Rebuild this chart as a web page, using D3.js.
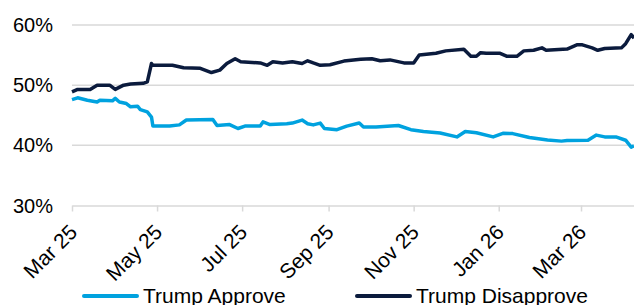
<!DOCTYPE html>
<html>
<head>
<meta charset="utf-8">
<script src="https://cdn.jsdelivr.net/npm/d3@7"></script>
<style>
  html, body { margin: 0; padding: 0; background: #fff; }
  svg { display: block; font-family: "Liberation Sans", Arial, sans-serif; }
</style>
</head>
<body>
<svg id="chart" width="634" height="305"></svg>
<script>
// ---- data ----
const approveDates = ["2025-03-01","2025-03-05","2025-03-12","2025-03-19","2025-03-21","2025-03-30","2025-04-01","2025-04-04","2025-04-09","2025-04-12","2025-04-17","2025-04-19","2025-04-24","2025-04-27","2025-04-28","2025-05-10","2025-05-17","2025-05-22","2025-06-10","2025-06-13","2025-06-22","2025-06-28","2025-07-03","2025-07-14","2025-07-16","2025-07-21","2025-08-02","2025-08-06","2025-08-13","2025-08-17","2025-08-21","2025-08-26","2025-08-29","2025-09-07","2025-09-14","2025-09-23","2025-09-26","2025-10-05","2025-10-21","2025-10-30","2025-11-08","2025-11-20","2025-12-02","2025-12-08","2025-12-16","2025-12-28","2026-01-04","2026-01-11","2026-01-23","2026-02-05","2026-02-15","2026-02-19","2026-03-06","2026-03-12","2026-03-18","2026-03-26","2026-04-02","2026-04-06","2026-04-08"];
const approveValues = [47.6,47.9,47.5,47.2,47.5,47.4,47.8,47.2,46.95,46.4,46.5,45.95,45.55,44.7,43.2,43.2,43.4,44.2,44.3,43.3,43.45,42.8,43.2,43.2,43.9,43.45,43.6,43.7,44.2,43.6,43.4,43.7,42.8,42.6,43.2,43.7,43.05,43.05,43.3,42.6,42.3,42.05,41.4,42.3,42.1,41.4,42.0,41.95,41.3,40.9,40.7,40.8,40.85,41.7,41.4,41.4,40.85,39.7,39.9];

const disapproveDates = ["2025-03-01","2025-03-05","2025-03-14","2025-03-19","2025-03-28","2025-04-01","2025-04-07","2025-04-12","2025-04-21","2025-04-24","2025-04-27","2025-04-28","2025-05-12","2025-05-20","2025-06-01","2025-06-09","2025-06-15","2025-06-20","2025-06-26","2025-06-30","2025-07-14","2025-07-19","2025-07-23","2025-07-30","2025-08-06","2025-08-13","2025-08-17","2025-08-21","2025-08-26","2025-09-02","2025-09-12","2025-09-24","2025-10-02","2025-10-08","2025-10-15","2025-10-25","2025-11-01","2025-11-05","2025-11-17","2025-11-24","2025-12-07","2025-12-12","2025-12-16","2025-12-19","2025-12-23","2026-01-02","2026-01-07","2026-01-14","2026-01-19","2026-01-26","2026-02-01","2026-02-04","2026-02-19","2026-02-26","2026-03-02","2026-03-09","2026-03-13","2026-03-18","2026-03-30","2026-04-02","2026-04-06","2026-04-08"];
const disapproveValues = [48.9,49.3,49.3,50.0,50.0,49.3,50.0,50.2,50.3,50.55,53.6,53.3,53.3,52.9,52.8,52.1,52.5,53.6,54.4,53.9,53.7,53.3,53.9,53.7,53.9,53.6,54.05,53.7,53.3,53.4,54.0,54.3,54.4,54.05,54.2,53.7,53.7,55.0,55.3,55.7,55.95,54.8,54.8,55.4,55.3,55.3,54.8,54.8,55.7,55.8,56.2,55.8,56.0,56.7,56.7,56.2,55.8,56.1,56.2,56.9,58.4,57.8];

const yTicks = [30, 40, 50, 60];
const xTickLabels = ["Mar 25","May 25","Jul 25","Sep 25","Nov 25","Jan 26","Mar 26"];
const xTickDates = ["2025-03-01","2025-05-01","2025-07-01","2025-09-01","2025-11-01","2026-01-01","2026-03-01"];
const seriesNames = ["Trump Approve","Trump Disapprove"];
const seriesColors = ["#00a2df","#0b1b3d"];

// ---- drawing ----
const parse = d3.utcParse("%Y-%m-%d");
const svg = d3.select("#chart");
const M = { left: 72, right: 634, top: 25, bottom: 205.5 };

const x = d3.scaleUtc()
  .domain([parse("2025-03-01"), parse("2026-04-08")])
  .range([M.left, M.right]);
const y = d3.scaleLinear().domain([30, 60]).range([M.bottom, M.top]);

// gridlines
svg.append("g").selectAll("line")
  .data(yTicks.filter(v => v !== 30))
  .join("line")
  .attr("x1", M.left).attr("x2", M.right)
  .attr("y1", d => y(d)).attr("y2", d => y(d))
  .attr("stroke", "#d9d9d9").attr("stroke-width", 1.5);

// y labels
svg.append("g").selectAll("text")
  .data(yTicks)
  .join("text")
  .attr("x", 53).attr("y", d => y(d))
  .attr("dy", "0.35em")
  .attr("text-anchor", "end")
  .attr("font-size", 20)
  .attr("fill", "#000")
  .text(d => d + "%");

// x axis
const tickMap = new Map(xTickDates.map((d, i) => [+parse(d), xTickLabels[i]]));
const xAxis = d3.axisBottom(x)
  .tickValues(xTickDates.map(parse))
  .tickSize(6)
  .tickSizeOuter(0)
  .tickFormat(d => tickMap.get(+d));
const gx = svg.append("g").attr("transform", `translate(0,${M.bottom})`).call(xAxis);
gx.select(".domain").attr("stroke", "#d9d9d9").attr("stroke-width", 1.5);
gx.selectAll(".tick line").attr("stroke", "#d9d9d9").attr("stroke-width", 1.5);
gx.selectAll(".tick text")
  .attr("font-size", 21)
  .attr("font-family", "Liberation Sans, Arial, sans-serif")
  .attr("fill", "#000")
  .attr("text-anchor", "end")
  .attr("dy", null)
  .attr("y", 0)
  .attr("transform", "translate(6,28) rotate(-45)");

// lines
const lineGen = d3.line()
  .x(d => x(d[0]))
  .y(d => y(d[1]));

const approve = approveDates.map((d, i) => [parse(d), approveValues[i]]);
const disapprove = disapproveDates.map((d, i) => [parse(d), disapproveValues[i]]);

[approve, disapprove].forEach((data, i) => {
  svg.append("path")
    .datum(data)
    .attr("d", lineGen)
    .attr("fill", "none")
    .attr("stroke", seriesColors[i])
    .attr("stroke-width", 3.5)
    .attr("stroke-linejoin", "round");
});

// legend
const legendX = [84, 357];
const lg = svg.append("g");
seriesNames.forEach((name, i) => {
  lg.append("line")
    .attr("x1", legendX[i]).attr("x2", legendX[i] + 53)
    .attr("y1", 296).attr("y2", 296)
    .attr("stroke", seriesColors[i]).attr("stroke-width", 4)
    .attr("stroke-linecap", "round");
  lg.append("text")
    .attr("x", legendX[i] + 59).attr("y", 296)
    .attr("dy", "0.35em")
    .attr("font-size", 21)
    .attr("fill", "#000")
    .text(name);
});
</script>
</body>
</html>
